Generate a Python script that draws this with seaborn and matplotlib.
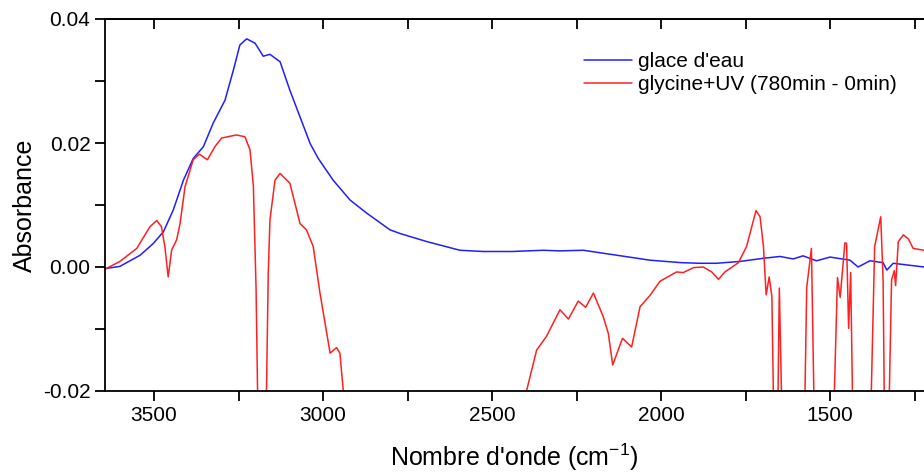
import numpy as np
import pandas as pd
import matplotlib
matplotlib.use('Agg')
import matplotlib.pyplot as plt
import matplotlib.ticker as mticker
import seaborn as sns

# glace d'eau (blue)
ice_x = [3650, 3601, 3541, 3502, 3472, 3443, 3413, 3384, 3354, 3325, 3290, 3265,
         3246, 3226, 3201, 3177, 3157, 3127, 3098, 3068, 3038, 3014, 2970, 2920,
         2871, 2802, 2772, 2693, 2595, 2526, 2440, 2349, 2300, 2230, 2131, 2033,
         1940, 1885, 1836, 1766, 1698, 1648, 1609, 1580, 1540, 1500, 1441, 1417,
         1382, 1343, 1332, 1313, 1222]
ice_y = [-0.0003, 0.0001, 0.0019, 0.0038, 0.0057, 0.0092, 0.0140, 0.0175, 0.0194,
         0.0232, 0.0269, 0.0318, 0.0358, 0.0368, 0.0361, 0.0340, 0.0343, 0.0331,
         0.0285, 0.0242, 0.0199, 0.0175, 0.0140, 0.0108, 0.0087, 0.0060, 0.0054,
         0.0041, 0.0027, 0.0025, 0.0025, 0.0027, 0.0026, 0.0027, 0.0019, 0.0011,
         0.0007, 0.0006, 0.0006, 0.0009, 0.0014, 0.0017, 0.0013, 0.0018, 0.0010,
         0.0016, 0.0011, 0.0000, 0.0010, 0.0007, -0.0005, 0.0006, 0.0000]

# glycine+UV (780min - 0min) (red), values below -0.02 are off-scale
gly_x = [3650, 3601, 3551, 3512, 3492, 3478, 3468, 3458, 3448, 3433, 3423, 3408,
         3384, 3366, 3342, 3320, 3300, 3256, 3231, 3216, 3206, 3198, 3191, 3170,
         3162, 3157, 3142, 3127, 3098, 3068, 3049, 3029, 3009, 2979, 2960, 2950,
         2940, 2920, 2410, 2398, 2368, 2339, 2299, 2274, 2245, 2223, 2200, 2171,
         2156, 2143, 2114, 2087, 2062, 2033, 2003, 1954, 1934, 1904, 1875, 1850,
         1830, 1811, 1771, 1747, 1719, 1707, 1697, 1689, 1680, 1672, 1665, 1656,
         1650, 1640, 1577, 1569, 1555, 1545, 1492, 1478, 1470, 1456, 1451, 1445,
         1439, 1431, 1382, 1368, 1350, 1343, 1338, 1328, 1318, 1310, 1306, 1298,
         1283, 1268, 1254, 1222]
gly_y = [-0.0005, 0.0009, 0.0030, 0.0065, 0.0075, 0.0065, 0.0033, -0.0016, 0.0027,
         0.0044, 0.0070, 0.0130, 0.0173, 0.0182, 0.0173, 0.0194, 0.0208, 0.0213,
         0.0210, 0.0189, 0.0130, -0.0037, -0.030, -0.030, -0.0010, 0.0076, 0.0140,
         0.0151, 0.0135, 0.0070, 0.0060, 0.0033, -0.0042, -0.0139, -0.0130, -0.0139,
         -0.0200, -0.030, -0.030, -0.0200, -0.0134, -0.0112, -0.0069, -0.0084,
         -0.0055, -0.0065, -0.0042, -0.0080, -0.0107, -0.0158, -0.0115, -0.0129,
         -0.0064, -0.0046, -0.0023, -0.0008, -0.0009, -0.0001, 0.0000, -0.0008,
         -0.0020, -0.0008, 0.0007, 0.0033, 0.0091, 0.0081, 0.0033, -0.0045, -0.0016,
         -0.0048, -0.030, -0.030, -0.0034, -0.030, -0.030, -0.0033, 0.0030, -0.030,
         -0.030, -0.0017, -0.0049, 0.0039, 0.0038, -0.0099, -0.0009, -0.030, -0.030,
         0.0033, 0.0081, -0.0021, -0.030, -0.030, -0.0021, -0.0006, -0.0030, 0.0041,
         0.0052, 0.0045, 0.0030, 0.0027]

labels = ["glace d'eau", "glycine+UV (780min - 0min)"]

sns.set_style('ticks')
plt.rcParams['font.family'] = ['Liberation Sans', 'DejaVu Sans']
plt.rcParams['mathtext.fontset'] = 'custom'
plt.rcParams['mathtext.rm'] = 'Liberation Sans'
plt.rcParams['mathtext.it'] = 'Liberation Sans'
plt.rcParams['axes.unicode_minus'] = False
for k in ['text.color', 'axes.labelcolor', 'xtick.color', 'ytick.color', 'axes.edgecolor']:
    plt.rcParams[k] = 'black'

fig = plt.figure(figsize=(9.24, 4.74), dpi=100)
ax = fig.add_axes([105 / 924, 83 / 474, 1 - 105 / 924, 372 / 474])

ice = pd.DataFrame({'x': ice_x, 'y': ice_y})
gly = pd.DataFrame({'x': gly_x, 'y': gly_y})
sns.lineplot(data=ice, x='x', y='y', ax=ax, color='#1f1fff', lw=1.1, label=labels[0])
sns.lineplot(data=gly, x='x', y='y', ax=ax, color='#ff2020', lw=1.1, label=labels[1])

ax.set_xlim(3645, 1222)
ax.set_ylim(-0.02, 0.04)
ax.xaxis.set_major_locator(mticker.MultipleLocator(500))
ax.xaxis.set_minor_locator(mticker.MultipleLocator(250))
ax.yaxis.set_major_locator(mticker.MultipleLocator(0.02))
ax.yaxis.set_minor_locator(mticker.MultipleLocator(0.01))
ax.yaxis.set_major_formatter(mticker.FormatStrFormatter('%.2f'))

ax.spines['right'].set_visible(False)
for s in ['left', 'bottom', 'top']:
    ax.spines[s].set_linewidth(1.3)
ax.tick_params(axis='both', which='both', direction='out', width=1.3, length=7,
               labelsize=15, top=False)
# mirrored inward ticks on top
sec = ax.secondary_xaxis('top')
sec.xaxis.set_major_locator(mticker.MultipleLocator(250))
sec.tick_params(direction='in', length=7, width=1.3, labeltop=False)
sec.spines['top'].set_linewidth(1.3)

ax.set_xlabel("Nombre d'onde (cm$^{-1}$)", fontsize=18, labelpad=12)
ax.set_ylabel('Absorbance', fontsize=18, labelpad=4)

ax.legend(loc='upper left', bbox_to_anchor=(0.5615, 0.962), frameon=False, fontsize=15,
          handlelength=2.3, handletextpad=0.3, labelspacing=0.2)

fig.savefig('out.png', dpi=100)
